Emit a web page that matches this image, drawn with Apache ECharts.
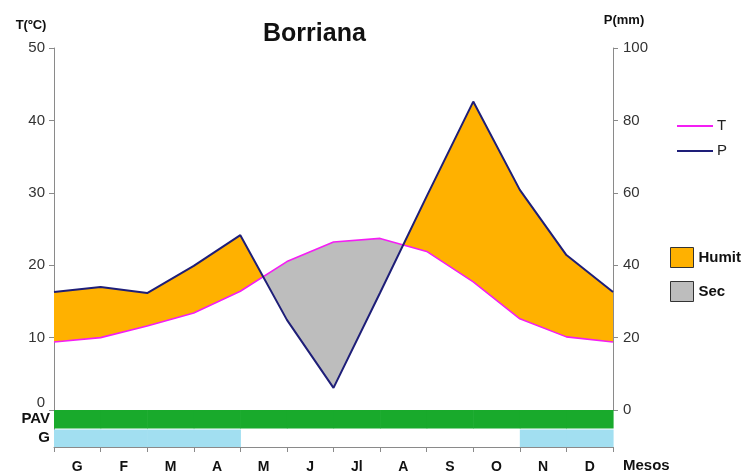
<!DOCTYPE html>
<html>
<head>
<meta charset="utf-8">
<script src="https://cdn.jsdelivr.net/npm/echarts@6/dist/echarts.min.js"></script>
<style>html,body{margin:0;padding:0;background:#fff}#c{width:755px;height:474px}</style>
</head>
<body>
<div id="c"></div>
<script>
// Month labels
const months = ['G','F','M','A','M','J','Jl','A','S','O','N','D'];
// Mean temperature (ºC) per month
const tempC = [9.4, 10.0, 11.6, 13.4, 16.4, 20.5, 23.2, 23.7, 21.9, 17.7, 12.6, 10.1];
// Precipitation (mm) per month
const precMm = [32.6, 34.0, 32.3, 39.8, 48.3, 24.9, 6.1, 32.4, 59.0, 85.2, 60.8, 42.8];
// Activity period (PAV) and frost (G) flags per month
const pavFlags = [1,1,1,1,1,1,1,1,1,1,1,1];
const gelFlags = [1,1,1,1,0,0,0,0,0,0,1,1];
// Band row labels
const bandRows = ['G', 'PAV'];
// Axis ticks
const tempTicks = {min: 0, max: 50, interval: 10};
const precTicks = {min: 0, max: 100, interval: 20};

const FONT = 'Arial, "Liberation Sans", sans-serif';

// closed yearly cycle: January value repeated at the end
const xIdx = tempC.map((_, i) => i).concat([12]);
const tCyc = tempC.concat([tempC[0]]);
const pCyc = precMm.concat([precMm[0]]);
const pHalf = pCyc.map(p => p / 2);   // P on temperature scale (P = 2T)

// split the area between P/2 and T into humid / dry polygons
function regions(x, top, bot) {
  const out = [];
  let cur = {wet: top[0] >= bot[0], up: [[x[0], top[0]]], lo: [[x[0], bot[0]]]};
  for (let i = 0; i < x.length - 1; i++) {
    const d0 = top[i] - bot[i], d1 = top[i + 1] - bot[i + 1];
    if (d0 * d1 < 0) {
      const f = d0 / (d0 - d1);
      const xc = x[i] + f * (x[i + 1] - x[i]);
      const yc = bot[i] + f * (bot[i + 1] - bot[i]);
      cur.up.push([xc, yc]); cur.lo.push([xc, yc]);
      out.push(cur);
      cur = {wet: d1 > 0, up: [[xc, yc]], lo: [[xc, yc]]};
    }
    cur.up.push([x[i + 1], top[i + 1]]);
    cur.lo.push([x[i + 1], bot[i + 1]]);
  }
  out.push(cur);
  return out.map(r => ({wet: r.wet, pts: r.up.concat(r.lo.slice().reverse())}));
}
const regs = regions(xIdx, pHalf, tCyc);
const wetPolys = regs.filter(r => r.wet).map(r => r.pts);
const dryPolys = regs.filter(r => !r.wet).map(r => r.pts);

function polySeries(name, polys, color) {
  return {
    name: name, type: 'custom', xAxisIndex: 0, yAxisIndex: 0, z: 1,
    itemStyle: {color: color},
    data: polys.map(p => [p[0][0], p[0][1]]),
    renderItem: function (params, api) {
      const pts = polys[params.dataIndex].map(p => api.coord(p));
      return {type: 'polygon', shape: {points: pts}, style: {fill: color, stroke: null}};
    },
    silent: true
  };
}

function bandSeries(name, flags, row, color, shrinkTop) {
  const data = [];
  flags.forEach((f, i) => { if (f) data.push([i, row]); });
  return {
    name: name, type: 'custom', xAxisIndex: 1, yAxisIndex: 2,
    data: data, silent: true,
    renderItem: function (params, api) {
      const c = api.coord([api.value(0), api.value(1)]);
      const s = api.size([1, 1]);
      return {type: 'rect', shape: {x: c[0] - s[0] / 2, y: c[1] - s[1] / 2 + shrinkTop, width: s[0] + 0.6, height: s[1] - shrinkTop},
              style: {fill: color}};
    }
  };
}

const axisGray = '#8a8a8a';
const labelCol = '#333';

const chart = echarts.init(document.getElementById('c'), null, {renderer: 'canvas'});
chart.setOption({
  animation: false,
  backgroundColor: '#fff',
  textStyle: {fontFamily: FONT},
  title: {
    text: 'Borriana', left: 263, top: 21, padding: 0,
    textStyle: {fontSize: 25, fontWeight: 'bold', color: '#111', fontFamily: FONT, lineHeight: 26}
  },
  graphic: [
    {type: 'text', x: 31, y: 25, style: {text: 'T(ºC)', fill: '#111', font: 'bold 13px ' + FONT, align: 'center', verticalAlign: 'middle'}},
    {type: 'text', x: 624, y: 20, style: {text: 'P(mm)', fill: '#111', font: 'bold 13px ' + FONT, align: 'center', verticalAlign: 'middle'}},
    {type: 'text', x: 623, y: 466, style: {text: 'Mesos', fill: '#111', font: 'bold 15px ' + FONT, align: 'left', verticalAlign: 'middle'}}
  ],
  legend: [
    {
      data: ['T', 'P'], orient: 'vertical', left: 677, top: 118, padding: 0,
      icon: 'rect', itemWidth: 36, itemHeight: 2, itemGap: 9,
      textStyle: {fontSize: 15, color: '#222', fontFamily: FONT, lineHeight: 16, padding: [0, 0, 0, -1]},
      selectedMode: false
    },
    {
      data: ['Humit', 'Sec'], orient: 'vertical', left: 670, top: 247, padding: 0,
      icon: 'rect', itemWidth: 23, itemHeight: 20, itemGap: 13,
      itemStyle: {borderColor: '#333', borderWidth: 1},
      textStyle: {fontSize: 15, fontWeight: 'bold', color: '#111', fontFamily: FONT},
      selectedMode: false
    }
  ],
  grid: [
    {left: 54, right: 142, top: 48, height: 362},
    {left: 54, right: 142, top: 410, height: 38}
  ],
  xAxis: [
    {type: 'value', gridIndex: 0, min: 0, max: 12, show: false},
    {
      type: 'category', gridIndex: 1, data: months, boundaryGap: true,
      axisLine: {show: true, lineStyle: {color: axisGray, width: 1}},
      axisTick: {show: true, length: 5, lineStyle: {color: axisGray}},
      axisLabel: {fontSize: 14, fontWeight: 'bold', color: '#111', margin: 13, fontFamily: FONT, interval: 0},
      splitLine: {show: false}
    }
  ],
  yAxis: [
    {
      type: 'value', gridIndex: 0, position: 'left', min: tempTicks.min, max: tempTicks.max, interval: tempTicks.interval,
      axisLine: {show: true, lineStyle: {color: axisGray, width: 1}},
      axisTick: {show: true, length: 5, lineStyle: {color: axisGray}},
      axisLabel: {
        fontSize: 15, color: labelCol, margin: 9, fontFamily: FONT,
        formatter: v => v === 0 ? '{z|0}' : String(v),
        rich: {z: {fontSize: 15, color: labelCol, fontFamily: FONT, padding: [0, 0, 15, 0]}}
      },
      splitLine: {show: false}
    },
    {
      type: 'value', gridIndex: 0, position: 'right', min: precTicks.min, max: precTicks.max, interval: precTicks.interval,
      axisLine: {show: true, lineStyle: {color: axisGray, width: 1}},
      axisTick: {show: true, length: 5, lineStyle: {color: axisGray}},
      axisLabel: {fontSize: 15, color: labelCol, margin: 10, fontFamily: FONT},
      splitLine: {show: false}
    },
    {
      type: 'category', gridIndex: 1, data: bandRows,
      axisLine: {show: true, lineStyle: {color: axisGray, width: 1}},
      axisTick: {show: false},
      axisLabel: {fontSize: 15, fontWeight: 'bold', color: '#111', margin: 4, fontFamily: FONT, interval: 0, hideOverlap: false},
      splitLine: {show: false}
    }
  ],
  series: [
    polySeries('Humit', wetPolys, '#FFB100'),
    polySeries('Sec', dryPolys, '#BDBDBD'),
    {
      name: 'T', type: 'line', xAxisIndex: 0, yAxisIndex: 0, z: 3,
      data: xIdx.map((x, i) => [x, tCyc[i]]),
      showSymbol: false, symbol: 'none', color: '#F41EF4',
      lineStyle: {color: '#F41EF4', width: 1.6}, silent: true
    },
    {
      name: 'P', type: 'line', xAxisIndex: 0, yAxisIndex: 1, z: 4,
      data: xIdx.map((x, i) => [x, pCyc[i]]),
      showSymbol: false, symbol: 'none', color: '#1E1E78',
      lineStyle: {color: '#1E1E78', width: 2}, silent: true
    },
    bandSeries('PAV', pavFlags, 1, '#19AA2C', 0),
    bandSeries('G', gelFlags, 0, '#A2DFF1', 1)
  ]
});
</script>
</body>
</html>
